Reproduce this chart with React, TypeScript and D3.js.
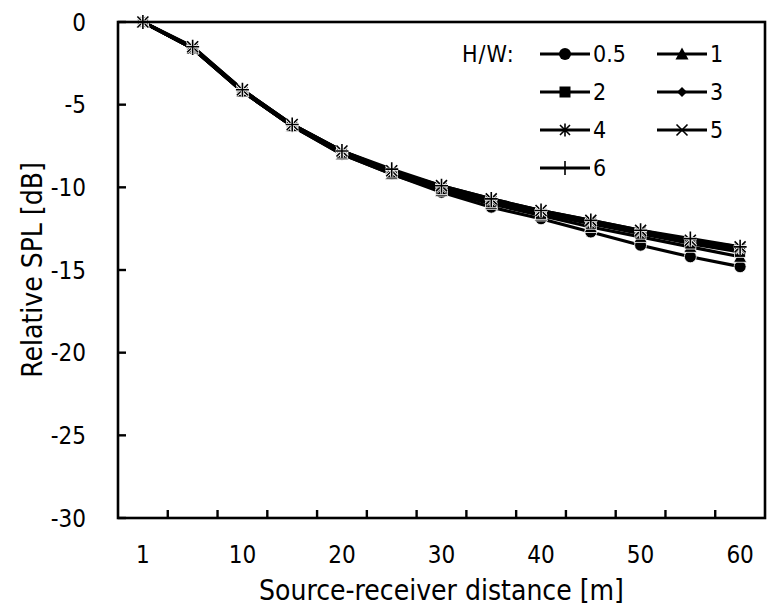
import React from "react";
import * as d3 from "d3";

const distances = ["1", "5", "10", "15", "20", "25", "30", "35", "40", "45", "50", "55", "60"];
const xTickLabels = ["1", "10", "20", "30", "40", "50", "60"];
const yTicks = [0, -5, -10, -15, -20, -25, -30];
const seriesNames = ["0.5", "1", "2", "3", "4", "5", "6"];
const markerTypes = ["circle", "triangle", "square", "diamond", "star", "x", "plus"];

const hw05 = [0, -1.6, -4.2, -6.3, -8.0, -9.2, -10.3, -11.2, -11.9, -12.7, -13.5, -14.2, -14.8];
const hw1 = [0, -1.6, -4.2, -6.3, -8.0, -9.2, -10.2, -11.0, -11.7, -12.4, -13.0, -13.6, -14.2];
const hw2 = [0, -1.6, -4.2, -6.3, -7.9, -9.1, -10.1, -10.9, -11.6, -12.2, -12.8, -13.4, -13.9];
const hw3 = [0, -1.6, -4.2, -6.3, -7.9, -9.0, -10.0, -10.8, -11.5, -12.1, -12.7, -13.3, -13.8];
const hw4 = [0, -1.6, -4.1, -6.2, -7.8, -9.0, -10.0, -10.8, -11.4, -12.1, -12.7, -13.2, -13.7];
const hw5 = [0, -1.5, -4.1, -6.2, -7.8, -9.0, -9.9, -10.7, -11.4, -12.0, -12.6, -13.2, -13.6];
const hw6 = [0, -1.5, -4.1, -6.2, -7.8, -8.9, -9.9, -10.7, -11.4, -12.0, -12.6, -13.1, -13.6];
const seriesValues = [hw05, hw1, hw2, hw3, hw4, hw5, hw6];

const FONT = "'DejaVu Sans Condensed', 'DejaVu Sans', sans-serif";

function Marker({ type, x, y, outline }: { type: string; x: number; y: number; outline: boolean }) {
  const s = outline ? "#fff" : "none";
  const sw = outline ? 0.8 : 0;
  switch (type) {
    case "circle":
      return <circle cx={x} cy={y} r={6} fill="#000" stroke={s} strokeWidth={sw} />;
    case "triangle":
      return (
        <path d={`M${x},${y - 6.5}L${x + 6.5},${y + 5.5}L${x - 6.5},${y + 5.5}Z`} fill="#000" stroke={s} strokeWidth={sw} />
      );
    case "square":
      return <rect x={x - 5.5} y={y - 5.5} width={11} height={11} fill="#000" stroke={s} strokeWidth={sw} />;
    case "diamond":
      return (
        <path d={`M${x},${y - 5}L${x + 5},${y}L${x},${y + 5}L${x - 5},${y}Z`} fill="#000" stroke={s} strokeWidth={sw} />
      );
    case "star": {
      const d = `M${x - 5},${y - 5}L${x + 5},${y + 5}M${x - 5},${y + 5}L${x + 5},${y - 5}M${x},${y - 6.5}L${x},${y + 6.5}`;
      return (
        <g>
          {outline && <path d={d} stroke="#fff" strokeWidth={3} fill="none" />}
          <path d={d} stroke="#000" strokeWidth={1.6} fill="none" />
        </g>
      );
    }
    case "x": {
      const d = `M${x - 5.5},${y - 5.5}L${x + 5.5},${y + 5.5}M${x - 5.5},${y + 5.5}L${x + 5.5},${y - 5.5}`;
      return (
        <g>
          {outline && <path d={d} stroke="#fff" strokeWidth={3} fill="none" />}
          <path d={d} stroke="#000" strokeWidth={1.6} fill="none" />
        </g>
      );
    }
    case "plus": {
      const d = `M${x - 6.5},${y}L${x + 6.5},${y}M${x},${y - 7}L${x},${y + 7}`;
      return (
        <g>
          {outline && <path d={d} stroke="#fff" strokeWidth={3} fill="none" />}
          <path d={d} stroke="#000" strokeWidth={1.6} fill="none" />
        </g>
      );
    }
  }
  return null;
}

export default function App() {
  const W = 772;
  const H = 609;
  const left = 118;
  const right = 765;
  const top = 22;
  const bottom = 518;

  const x = d3.scaleBand<string>().domain(distances).range([left, right]).paddingInner(0).paddingOuter(0);
  const y = d3.scaleLinear().domain([-30, 0]).range([bottom, top]);
  const cx = (d: string) => (x(d) as number) + x.bandwidth() / 2;

  const line = d3
    .line<number>()
    .x((_, i) => cx(distances[i]))
    .y((v) => y(v));

  const tickPositions = distances.slice(1).map((d) => x(d) as number);

  const legendRows = [54, 92, 130, 168];
  const legendCols = [565, 682];
  const legendItems = seriesNames.map((n, i) => ({
    name: n,
    type: markerTypes[i],
    cx: legendCols[i % 2],
    cy: legendRows[Math.floor(i / 2)],
  }));

  return (
    <svg width={W} height={H} style={{ position: "absolute", left: 0, top: 0 }} fontFamily={FONT}>
      <rect x={0} y={0} width={W} height={H} fill="#fff" />
      {/* series lines */}
      {seriesValues.map((vals, si) => (
        <path key={"l" + si} d={line(vals) || ""} fill="none" stroke="#000" strokeWidth={3.2} strokeLinejoin="round" />
      ))}
      {/* markers */}
      {seriesValues.map((vals, si) => (
        <g key={"m" + si}>
          {vals.map((v, i) => (
            <Marker key={i} type={markerTypes[si]} x={cx(distances[i])} y={y(v)} outline={true} />
          ))}
        </g>
      ))}
      {/* frame */}
      <rect x={left} y={top} width={right - left} height={bottom - top} fill="none" stroke="#000" strokeWidth={2.6} />
      {/* y ticks */}
      {yTicks.map((t) => (
        <g key={"yt" + t}>
          <line x1={left} x2={left + 8} y1={y(t)} y2={y(t)} stroke="#000" strokeWidth={2.4} />
          <text x={86} y={y(t)} dy="0.36em" textAnchor="end" fontSize={24} fill="#000">
            {t}
          </text>
        </g>
      ))}
      {/* x ticks */}
      {tickPositions.map((p, i) => (
        <line key={"xt" + i} x1={p} x2={p} y1={bottom} y2={bottom - 8} stroke="#000" strokeWidth={2.4} />
      ))}
      {xTickLabels.map((l) => (
        <text key={"xl" + l} x={cx(l)} y={563} textAnchor="middle" fontSize={24} fill="#000">
          {l}
        </text>
      ))}
      {/* axis titles */}
      <text x={(left + right) / 2} y={600} textAnchor="middle" fontSize={28} fill="#000">
        Source-receiver distance [m]
      </text>
      <text
        transform={`translate(42,${(top + bottom) / 2}) rotate(-90)`}
        textAnchor="middle"
        fontSize={28}
        fill="#000"
      >
        Relative SPL [dB]
      </text>
      {/* legend */}
      <text x={462} y={legendRows[0]} dy="0.36em" fontSize={23} letterSpacing={1} fill="#000">
        H/W:
      </text>
      {legendItems.map((it) => (
        <g key={"lg" + it.name}>
          <line x1={it.cx - 25} x2={it.cx + 25} y1={it.cy} y2={it.cy} stroke="#000" strokeWidth={3} />
          <Marker type={it.type} x={it.cx} y={it.cy} outline={false} />
          <text x={it.cx + 28} y={it.cy} dy="0.36em" fontSize={23} fill="#000">
            {it.name}
          </text>
        </g>
      ))}
    </svg>
  );
}
